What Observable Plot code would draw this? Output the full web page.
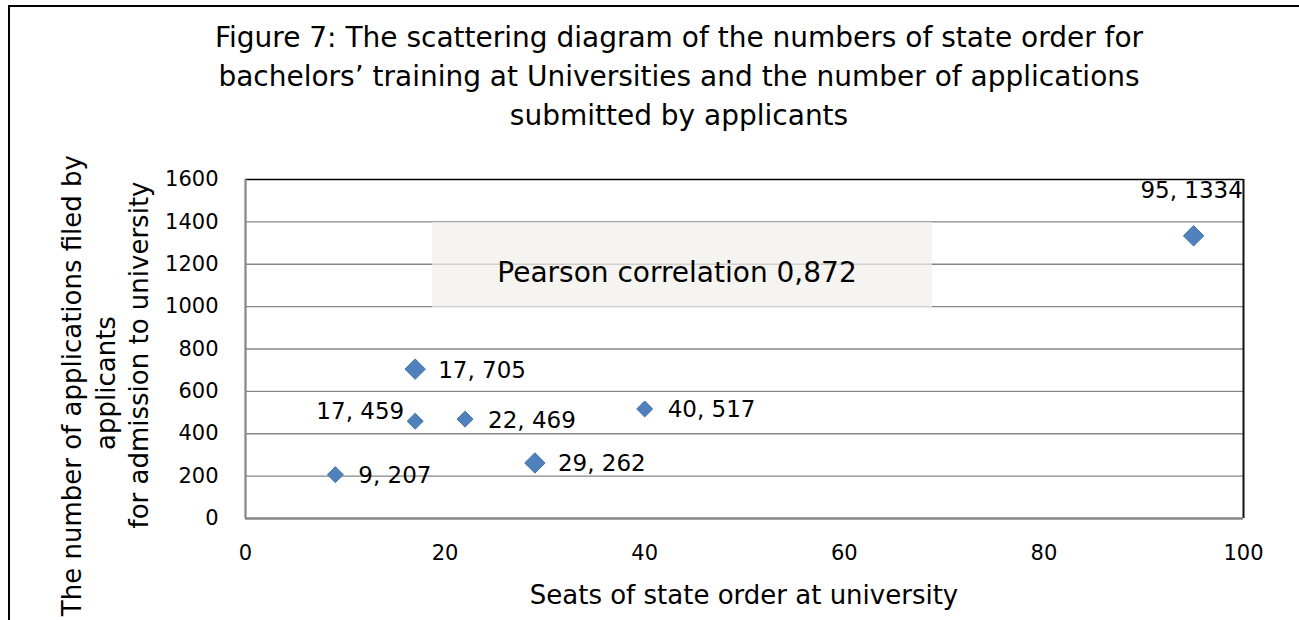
<!DOCTYPE html>
<html>
<head>
<meta charset="utf-8">
<script src="https://cdn.jsdelivr.net/npm/d3@7"></script>
<script src="https://cdn.jsdelivr.net/npm/@observablehq/plot@0.6"></script>
<style>
  html, body { margin: 0; padding: 0; background: #fff; }
  #wrap {
    position: relative; width: 1299px; height: 620px; overflow: hidden;
    font-family: "DejaVu Sans", sans-serif; color: #000;
  }
  #frame {
    position: absolute; left: 8px; top: 5px; width: 1400px; height: 800px;
    border-left: 2px solid #000; border-top: 2px solid #000;
  }
  #title {
    position: absolute; left: 0; top: 18px; width: 1358px;
    text-align: center; font-size: 28px; line-height: 39px;
  }
  #chart { position: absolute; left: 0; top: 150px; }
  .ytitle {
    position: absolute; font-size: 26px; line-height: 30px; height: 30px;
    white-space: nowrap; transform: rotate(-90deg); transform-origin: 50% 50%;
  }
  #xtitle {
    position: absolute; left: 444px; width: 600px; top: 580px;
    text-align: center; font-size: 26px; line-height: 30px; white-space: nowrap;
  }
  #note {
    position: absolute; left: 432px; top: 222px; width: 500px; height: 86px;
    background: rgba(241, 239, 234, 0.7);
    display: flex; align-items: center; justify-content: center;
    box-sizing: border-box; padding: 14px 10px 0 0;
    font-size: 28px; white-space: nowrap;
  }
</style>
</head>
<body>
<div id="wrap">
  <div id="frame"></div>
  <div id="title">Figure 7: The scattering diagram of the numbers of state order for<br>bachelors’ training at Universities and the number of applications<br>submitted by applicants</div>
  <div id="chart"></div>
  <div id="note"></div>
  <div class="ytitle" id="yt1"></div>
  <div class="ytitle" id="yt2"></div>
  <div class="ytitle" id="yt3"></div>
  <div id="xtitle"></div>
</div>
<script>
// ---- data ----
const seats = [9, 17, 17, 22, 29, 40, 95];
const applications = [207, 459, 705, 469, 262, 517, 1334];
const xTicks = [0, 20, 40, 60, 80, 100];
const yTicks = [0, 200, 400, 600, 800, 1000, 1200, 1400, 1600];
const xTitle = "Seats of state order at university";
const yTitleLines = ["The number of applications filed by", "applicants", "for admission to university"];
const noteText = "Pearson correlation 0,872";

// ---- build table ----
const points = seats.map((s, i) => ({ seats: s, apps: applications[i], label: `${s}, ${applications[i]}`, i }));

// styling choices (which markers are drawn larger, how labels sit)
const largeMarkers = new Set([2, 4, 6]);
const labelLeft = new Set([1]);
const labelAbove = new Set([6]);

const fontFamily = '"DejaVu Sans", sans-serif';
const blue = "#4f81bd";
const blueEdge = "#4373ad";
const axisGray = "#868686";

const yMax = yTicks[yTicks.length - 1];
const xMax = xTicks[xTicks.length - 1];

const chart = Plot.plot({
  width: 1299,
  height: 470,
  marginLeft: 245,
  marginRight: 56,
  marginTop: 29,
  marginBottom: 102,
  style: { fontFamily, fontSize: "21px", color: "#000", background: "transparent", overflow: "visible" },
  x: { domain: [xTicks[0], xMax], ticks: xTicks, tickSize: 0, tickPadding: 27, tickFormat: d => String(d), label: null },
  y: { domain: [yTicks[0], yMax], ticks: yTicks, tickSize: 0, tickPadding: 27, tickFormat: d => String(d), label: null },
  marks: [
    Plot.ruleY(yTicks.filter(v => v > 0 && v < yMax), { stroke: axisGray, strokeWidth: 1.4 }),
    Plot.ruleY([yMax], { stroke: "#000", strokeWidth: 1.6 }),
    Plot.ruleX([xMax], { stroke: "#111", strokeWidth: 2 }),
    Plot.ruleX([0], { stroke: axisGray, strokeWidth: 2.2 }),
    Plot.ruleY([0], { stroke: axisGray, strokeWidth: 2.6 }),
    Plot.dot(points, { filter: d => !largeMarkers.has(d.i), x: "seats", y: "apps", symbol: "diamond2", r: 7.2, fill: blue, stroke: blueEdge, strokeWidth: 1 }),
    Plot.dot(points, { filter: d => largeMarkers.has(d.i), x: "seats", y: "apps", symbol: "diamond2", r: 9.2, fill: blue, stroke: blueEdge, strokeWidth: 1 }),
    Plot.text(points, { filter: d => !labelLeft.has(d.i) && !labelAbove.has(d.i), x: "seats", y: "apps", text: "label", textAnchor: "start", dx: 23, dy: 1, fontSize: 23 }),
    Plot.text(points, { filter: d => labelLeft.has(d.i), x: "seats", y: "apps", text: "label", textAnchor: "end", dx: -11, dy: -10, fontSize: 23 }),
    Plot.text(points, { filter: d => labelAbove.has(d.i), x: "seats", y: "apps", text: "label", textAnchor: "middle", dx: -2, dy: -45, fontSize: 23 })
  ]
});
document.getElementById("chart").appendChild(chart);

document.getElementById("note").textContent = noteText;
document.getElementById("xtitle").textContent = xTitle;

// rotated y-axis title lines
function placeY(id, text, cx, cy, w, align) {
  const el = document.getElementById(id);
  el.textContent = text;
  el.style.width = w + "px";
  el.style.textAlign = align;
  el.style.left = (cx - w / 2) + "px";
  el.style.top = (cy - 15) + "px";
}
placeY("yt1", yTitleLines[0], 72, 455, 600, "right");
placeY("yt2", yTitleLines[1], 106, 383, 300, "center");
placeY("yt3", yTitleLines[2], 139, 355, 500, "center");
</script>
</body>
</html>
